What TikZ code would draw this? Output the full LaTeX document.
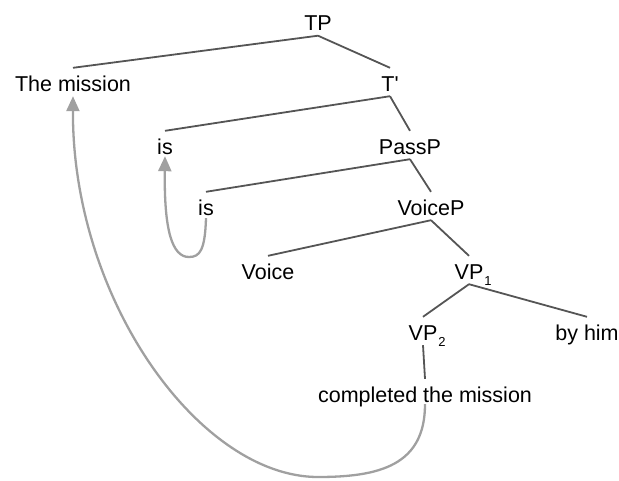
\documentclass[tikz,border=0pt]{standalone}
\usepackage{fontspec}
\newfontfamily\labelfont{Liberation Sans}
\usetikzlibrary{arrows.meta}
\definecolor{branch}{HTML}{555555}
\definecolor{movecol}{HTML}{A0A0A0}
\newcommand{\subnum}[1]{\rlap{\kern1pt\raisebox{-6.5pt}{\fontsize{13}{15}\selectfont #1}}}
\begin{document}
\begin{tikzpicture}[x=1pt,y=-1pt,
  lbl/.style={font=\labelfont\fontsize{21.5}{25}\selectfont, inner sep=0pt, text height=23pt, text depth=5pt, anchor=base},
  branchline/.style={draw=branch, line width=1.8pt},
  movearrow/.style={draw=movecol, line width=2.3pt, -{Triangle[length=15pt,width=13pt]}}]
\useasboundingbox (0,0) rectangle (619,480);
\node[lbl] (TP) at (318,30.5) {TP};
\node[lbl] (mission) at (73,91) {The mission};
\node[lbl] (Tbar) at (390,91) {T'};
\node[lbl] (is1) at (165,154) {is};
\node[lbl] (PassP) at (410,154) {PassP};
\node[lbl] (is2) at (206,215) {is};
\node[lbl] (VoiceP) at (431,215) {VoiceP};
\node[lbl] (Voice) at (268,279) {Voice};
\node[lbl] (VP1) at (469,279) {VP\subnum{1}};
\node[lbl] (VP2) at (423,340) {VP\subnum{2}};
\node[lbl] (byhim) at (587,340) {by him};
\node[lbl] (completed) at (425,402) {completed the mission};
\draw[branchline] (TP.south) -- (mission.north);
\draw[branchline] (TP.south) -- (Tbar.north);
\draw[branchline] (Tbar.south) -- (is1.north);
\draw[branchline] (Tbar.south) -- (PassP.north);
\draw[branchline] (PassP.south) -- (is2.north);
\draw[branchline] (PassP.south) -- (VoiceP.north);
\draw[branchline] (VoiceP.south) -- (Voice.north);
\draw[branchline] (VoiceP.south) -- (VP1.north);
\draw[branchline] (VP1.south) -- (VP2.north);
\draw[branchline] (VP1.south) -- (byhim.north);
\draw[branchline] (VP2.south) -- (completed.north);
\coordinate (bottom1) at (318,477);
\coordinate (bottom2) at (189,257);
\draw[movearrow] ([yshift=3pt]completed.south) .. controls (425,465) and (380,477) .. (bottom1)
  .. controls (200,477) and (72,300) .. (mission.south);
\draw[movearrow] ([yshift=2pt]is2.south) .. controls (205,250) and (200,257) .. (bottom2)
  .. controls (172,257) and (164,230) .. ([yshift=3pt]is1.south);
\end{tikzpicture}
\end{document}
